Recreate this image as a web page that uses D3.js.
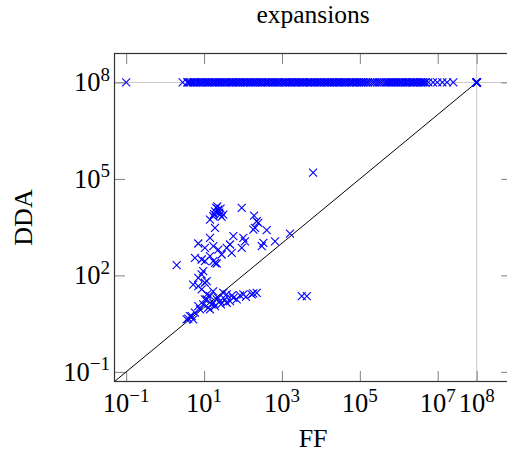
<!DOCTYPE html>
<html>
<head>
<meta charset="utf-8">
<script src="https://cdn.jsdelivr.net/npm/d3@7"></script>
<style>
  body { margin: 0; background: #fff; }
  svg { display: block; }
</style>
</head>
<body>
<svg id="drawing_region"></svg>
<script>
// tick positions
const x_ticks = [1e-1, 1e1, 1e3, 1e5, 1e7, 1e8];
const y_ticks = [1e-1, 1e2, 1e5, 1e8];
const grid_values = [1e8];

// points below the 1e8 row (FF, DDA)
const ff_values = [21.8, 19.1, 25.6, 14.2, 28.3, 17.3, 23.2, 31.2, 19.1, 92.7,
    192, 225, 203, 406, 247, 184, 1610, 7.1, 14.2, 10.5,
    17.3, 23.2, 38.1, 46.3, 56.4, 102, 112, 92.7, 51.3, 28.3,
    14.2, 5.83, 8.67, 1.98, 333, 303, 665, 10.5, 19.1, 17.3,
    21.1, 8.67, 7.1, 11.7, 5.27, 8.67, 7.1, 9.5, 10.5, 14.2,
    31.2, 56.4, 83.8, 184, 225, 3230, 4350, 11.7, 9.5, 7.1,
    7.85, 5.83, 4.8, 3.93, 3.57, 5.27, 17.3, 21.1, 38.1, 34.4,
    46.3, 68.9, 102, 25.6, 19.1, 12.8, 15.7, 38.1, 14.2, 4.35,
    167, 10.5, 22.7, 17.1, 11.9, 27.2, 52.1, 119, 20.5, 24.5,
    18.0, 26.5, 6310];
const dda_values = [14100, 9860, 7780, 5450, 6610, 6900, 11100, 7780, 3010, 12600,
    7240, 4820, 3010, 2540, 4300, 2660, 2000, 980, 1470, 720,
    807, 637, 720, 912, 1650, 1470, 1150, 720, 504, 446,
    394, 352, 312, 208, 1030, 807, 1150, 276, 246, 276,
    234, 107, 84, 66, 52, 36.5, 46, 135, 59, 22.6,
    28.8, 20.1, 23.8, 27.4, 28.8, 22.6, 22.6, 17.9, 12.5, 11.1,
    8.73, 6.9, 5.4, 4.5, 4.27, 4.27, 14.1, 17.9, 25.5, 17.9,
    15.8, 17.9, 25.5, 15.8, 11.1, 9.86, 12.5, 14.1, 8.73, 5.4,
    25.5, 17.9, 20.5, 31.6, 25.5, 12.5, 23.8, 21.4, 12500, 9000,
    8000, 12000, 158000];

// the DDA = 1e8 row, FF given as log10
const top_row_dda = 1e8;
const top_row_ff_log10 = [-1, 0.45, 0.57,
    0.59, 0.63, 0.66, 0.71, 0.74, 0.78, 0.83, 0.86, 0.90, 0.95, 0.98, 1.02, 1.07, 1.10, 1.14, 1.19,
    1.22, 1.27, 1.30, 1.34, 1.39, 1.42, 1.46, 1.51, 1.54, 1.58, 1.63, 1.66, 1.71, 1.74, 1.78, 1.82,
    1.87, 1.90, 1.94, 1.99, 2.02, 2.06, 2.11, 2.14, 2.19, 2.22, 2.26, 2.31, 2.34, 2.38, 2.43, 2.46,
    2.50, 2.55, 2.58, 2.63, 2.66, 2.70, 2.75, 2.78, 2.82, 2.87, 2.90, 2.94, 2.99, 3.02, 3.07, 3.10,
    3.14, 3.19, 3.22, 3.26, 3.31, 3.34, 3.39, 3.42, 3.46, 3.51, 3.54, 3.58, 3.63, 3.66, 3.71, 3.74,
    3.78, 3.83, 3.86, 3.90, 3.95, 3.98, 4.02, 4.07, 4.10, 4.15, 4.18, 4.22, 4.27, 4.30, 4.34, 4.39,
    4.42, 4.47, 4.50, 4.54, 4.59, 4.62, 4.66, 4.71, 4.74, 4.79, 4.82, 4.86, 4.91, 4.94, 4.98, 5.03,
    5.06, 5.11, 5.16, 5.21, 5.27, 5.33, 5.38, 5.44, 5.50, 5.55, 5.61, 5.66, 5.70, 5.74, 5.79, 5.82,
    5.86, 5.91, 5.94, 5.98, 6.03, 6.06, 6.10, 6.15, 6.18, 6.22, 6.27, 6.30, 6.35, 6.38, 6.42, 6.47,
    6.50, 6.55, 6.58, 6.62, 6.66, 6.69,
    6.76, 6.88, 6.99, 7.12, 7.24, 7.40];

// pile of points at (1e8, 1e8)
const corner_ff = [1e8, 0.97e8, 1.03e8, 1e8, 1e8];
const corner_dda = [1e8, 1e8, 1e8, 0.97e8, 1.03e8];

const config = {
    parent: '#drawing_region',
    width: 507,
    height: 453,
    margin: {top: 53.5, right: -4.7, bottom: 71.5, left: 114.5},
    domain: [Math.pow(10, -1.3), Math.pow(10, 8.9)],
    title: 'expansions',
    xlabel: 'FF',
    ylabel: 'DDA'
};

const font = '"Liberation Serif", "Times New Roman", serif';
const blue = '#0000ff';

let points = [];
ff_values.forEach((v, i) => points.push({ff: v, dda: dda_values[i]}));
top_row_ff_log10.forEach(e => points.push({ff: Math.pow(10, e), dda: top_row_dda}));
corner_ff.forEach((v, i) => points.push({ff: v, dda: corner_dda[i]}));

const svg = d3.select(config.parent)
    .attr('width', config.width)
    .attr('height', config.height);

const inner_width = config.width - config.margin.left - config.margin.right;
const inner_height = config.height - config.margin.top - config.margin.bottom;

const chart = svg.append('g')
    .attr('transform', `translate(${config.margin.left}, ${config.margin.top})`);

const xscale = d3.scaleLog().domain(config.domain).range([0, inner_width]);
const yscale = d3.scaleLog().domain(config.domain).range([inner_height, 0]);

// grid at 1e8
chart.selectAll('.gridx').data(grid_values).enter().append('line')
    .attr('x1', d => xscale(d)).attr('x2', d => xscale(d))
    .attr('y1', 0).attr('y2', inner_height)
    .attr('stroke', '#c8c8c8').attr('stroke-width', 1);
chart.selectAll('.gridy').data(grid_values).enter().append('line')
    .attr('y1', d => yscale(d)).attr('y2', d => yscale(d))
    .attr('x1', 0).attr('x2', inner_width)
    .attr('stroke', '#c8c8c8').attr('stroke-width', 1);

// inward ticks on all four sides
const tick_len = 10.5;
const axes = [
    {axis: d3.axisBottom(xscale).tickValues(x_ticks), t: `translate(0, ${inner_height})`},
    {axis: d3.axisTop(xscale).tickValues(x_ticks), t: 'translate(0, 0)'},
    {axis: d3.axisLeft(yscale).tickValues(y_ticks), t: 'translate(0, 0)'},
    {axis: d3.axisRight(yscale).tickValues(y_ticks), t: `translate(${inner_width}, 0)`}
];
axes.forEach(a => {
    const g = chart.append('g')
        .attr('transform', a.t)
        .call(a.axis.tickSizeInner(-tick_len).tickSizeOuter(0).tickFormat(''));
    g.select('.domain').remove();
    g.selectAll('.tick line').attr('stroke', '#808080').attr('stroke-width', 1);
});

// diagonal y = x
const line = d3.line().x(d => xscale(d)).y(d => yscale(d));
chart.append('path')
    .datum([config.domain[0], 1e8])
    .attr('d', line)
    .attr('fill', 'none')
    .attr('stroke', '#000')
    .attr('stroke-width', 1);

// markers
const s = 4;
chart.append('g').selectAll('path')
    .data(points)
    .enter()
    .append('path')
    .attr('transform', d => `translate(${xscale(d.ff)}, ${yscale(d.dda)})`)
    .attr('d', `M${-s},${-s}L${s},${s}M${-s},${s}L${s},${-s}`)
    .attr('fill', 'none')
    .attr('stroke', blue)
    .attr('stroke-width', 1.1);

// frame
chart.append('rect')
    .attr('x', 0).attr('y', 0)
    .attr('width', inner_width).attr('height', inner_height)
    .attr('fill', 'none')
    .attr('stroke', '#333')
    .attr('stroke-width', 1.2);

// tick labels  10^k
function expLabel(sel, d) {
    const e = Math.round(Math.log10(d));
    sel.append('tspan').text('10');
    sel.append('tspan')
        .attr('dy', -10.5)
        .style('font-size', '19px')
        .text(e < 0 ? '\u2212' + (-e) : String(e));
}

chart.selectAll('.xlab').data(x_ticks).enter().append('text')
    .attr('x', d => xscale(d))
    .attr('y', 358.5)
    .attr('text-anchor', 'middle')
    .style('font-family', font)
    .style('font-size', '26.5px')
    .each(function(d) { expLabel(d3.select(this), d); });

chart.selectAll('.ylab').data(y_ticks).enter().append('text')
    .attr('x', -4.5)
    .attr('y', d => yscale(d) + 9)
    .attr('text-anchor', 'end')
    .style('font-family', font)
    .style('font-size', '26.5px')
    .each(function(d) { expLabel(d3.select(this), d); });

// title and axis labels
svg.append('text')
    .attr('x', config.margin.left + inner_width / 2)
    .attr('y', 22.5)
    .attr('text-anchor', 'middle')
    .style('font-family', font)
    .style('font-size', '25.5px')
    .text(config.title);

svg.append('text')
    .attr('x', config.margin.left + inner_width / 2)
    .attr('y', 447)
    .attr('text-anchor', 'middle')
    .style('font-family', font)
    .style('font-size', '26px')
    .text(config.xlabel);

svg.append('text')
    .attr('transform', `translate(31.5, ${config.margin.top + inner_height / 2}) rotate(-90)`)
    .attr('text-anchor', 'middle')
    .style('font-family', font)
    .style('font-size', '26px')
    .text(config.ylabel);
</script>
</body>
</html>
